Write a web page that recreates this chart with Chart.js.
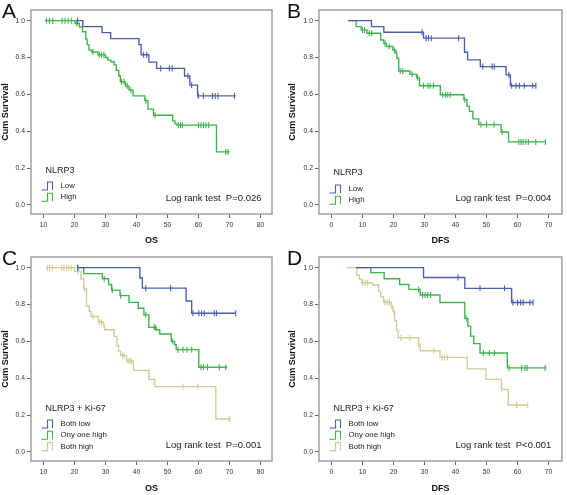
<!DOCTYPE html>
<html>
<head>
<meta charset="utf-8">
<script src="https://cdn.jsdelivr.net/npm/chart.js@4.4.1/dist/chart.umd.min.js"></script>
<style>
  body { margin: 0; background: #fff; }
  #wrap { position: relative; width: 567px; height: 495px; }
  canvas { position: absolute; }
</style>
</head>
<body>
<div id="wrap">
  <canvas id="cA" width="283" height="247" style="left:0;top:0"></canvas>
  <canvas id="cB" width="283" height="247" style="left:284px;top:0"></canvas>
  <canvas id="cC" width="283" height="248" style="left:0;top:247px"></canvas>
  <canvas id="cD" width="283" height="248" style="left:284px;top:247px"></canvas>
</div>
<script>
"use strict";

// tick labels
const yTicks = [0, 0.2, 0.4, 0.6, 0.8, 1.0];
const xTicksOS = [10, 20, 30, 40, 50, 60, 70, 80];
const xTicksDFS = [0, 10, 20, 30, 40, 50, 60, 70];

// A: OS by NLRP3
const aLowT = [20.5, 22.7, 28.9, 31.7, 40.8, 41.5, 44.0, 46.5, 55.5, 57.2, 59.7, 72];
const aLowS = [1, 0.968, 0.935, 0.903, 0.87, 0.815, 0.775, 0.741, 0.70, 0.65, 0.592, 0.592];
const aLowC = [21, 42.3, 43.3, 47.8, 50.6, 51.5, 56.6, 57.8, 59.9, 61.6, 64.5, 65.4, 66.3, 71.6];
const aHighT = [10.5, 20.2, 21.6, 22.6, 23.7, 24.1, 24.7, 25.6, 27.6, 30, 30.8, 31.7, 32.8, 33.5, 34.3, 34.8, 36.5, 37.6, 38.9, 42.7, 43.7, 45.5, 51.7, 52.4, 53, 65.8, 70];
const aHighS = [1, 0.985, 0.966, 0.94, 0.90, 0.87, 0.84, 0.83, 0.815, 0.80, 0.786, 0.777, 0.76, 0.73, 0.70, 0.668, 0.645, 0.623, 0.592, 0.566, 0.52, 0.487, 0.456, 0.44, 0.433, 0.288, 0.288];
const aHighC = [11, 12, 13, 16, 17, 18, 19, 20.8, 26, 28, 28.7, 29.5, 35.2, 36, 37, 38.2, 43, 46, 53.5, 54.2, 54.8, 60, 60.8, 61.6, 62.4, 63.3, 68.8, 69.5];

// B: DFS by NLRP3
const bLowT = [5.4, 12.9, 16.9, 29.7, 42.9, 43.9, 48, 56.3, 57.7, 66];
const bLowS = [1, 0.968, 0.937, 0.905, 0.829, 0.787, 0.751, 0.706, 0.647, 0.647];
const bLowC = [29.2, 30.5, 31.3, 32.2, 41, 48.8, 51.8, 52.5, 57.2, 58.1, 59.5, 60.6, 62.2, 64.9, 65.9];
const bHighT = [5.4, 8, 9.6, 11.5, 15.9, 16.9, 17.7, 19.8, 20.8, 21.1, 21.7, 25.3, 27.5, 28.4, 35.1, 42.7, 43.7, 44.5, 45.6, 47.5, 54.7, 57.1, 69];
const bHighS = [1, 0.968, 0.95, 0.932, 0.895, 0.877, 0.86, 0.84, 0.823, 0.796, 0.727, 0.709, 0.69, 0.647, 0.598, 0.571, 0.535, 0.508, 0.467, 0.436, 0.396, 0.342, 0.342];
const bHighC = [10, 10.7, 12.2, 13, 17.3, 18.6, 20.3, 22.2, 23, 26, 27.8, 29.7, 31.1, 31.8, 32.9, 35.9, 36.8, 37.5, 38.3, 43, 48.2, 50, 52.4, 55, 60.4, 61.1, 61.8, 62.7, 63.5, 65.9, 69];

// C: OS by NLRP3 + Ki-67
const cLowT = [20.9, 41.1, 41.9, 56, 57.8, 72];
const cLowS = [1, 0.944, 0.889, 0.819, 0.753, 0.753];
const cLowC = [21.1, 43, 51, 58.2, 60.1, 61, 61.9, 65.1, 65.8, 72];
const cOneT = [21, 23, 29, 31, 32, 34.7, 37.6, 40.6, 42.4, 44, 46.4, 47.5, 51.2, 52.3, 52.8, 60.1, 69.3];
const cOneS = [1, 0.968, 0.94, 0.909, 0.878, 0.848, 0.812, 0.78, 0.744, 0.676, 0.663, 0.64, 0.60, 0.582, 0.555, 0.46, 0.46];
const cOneC = [21, 29.6, 32.2, 34.9, 43, 45.7, 46.1, 51.7, 53.4, 55, 56.3, 57.8, 60.8, 61.6, 62.9, 66.7, 68.8];
const cBothT = [10.7, 20.1, 22.1, 23, 23.9, 24.8, 25.4, 27.8, 29.4, 29.7, 32.8, 33.7, 34.2, 34.9, 36.8, 39, 44, 45.9, 65.6, 70.4];
const cBothS = [1, 0.98, 0.94, 0.887, 0.792, 0.762, 0.735, 0.704, 0.686, 0.663, 0.627, 0.577, 0.547, 0.523, 0.493, 0.443, 0.394, 0.355, 0.179, 0.179];
const cBothC = [11.3, 12, 12.9, 15.9, 16.6, 17.5, 18.2, 19, 21.2, 23.3, 26, 28, 28.7, 35.5, 36, 37.3, 37.9, 38.4, 55, 59.8, 69.9];

// D: DFS by NLRP3 + Ki-67
const dLowT = [8, 29.7, 43, 58.1, 65];
const dLowS = [1, 0.947, 0.888, 0.811, 0.811];
const dLowC = [40.8, 47.9, 55.8, 58.5, 60, 61, 61.8, 64, 65];
const dOneT = [8.2, 12.7, 17, 22, 25, 28.6, 35, 43, 44, 44.9, 45.9, 47.9, 56.7, 69.3];
const dOneS = [1, 0.973, 0.94, 0.909, 0.882, 0.852, 0.811, 0.724, 0.683, 0.629, 0.588, 0.537, 0.456, 0.456];
const dOneC = [28.1, 29.4, 30.2, 31, 32, 43.5, 49, 50.9, 52.5, 57.3, 61.3, 62.4, 63.1, 68.9];
const dBothT = [4.8, 8.2, 9, 9.8, 13.3, 15.2, 15.9, 16.8, 19.3, 19.9, 20.4, 21, 21.5, 28.1, 28.6, 35, 43.8, 49.8, 54.8, 57, 63.3];
const dBothS = [1, 0.959, 0.938, 0.918, 0.906, 0.87, 0.843, 0.813, 0.79, 0.763, 0.713, 0.66, 0.62, 0.585, 0.549, 0.513, 0.451, 0.394, 0.34, 0.255, 0.255];
const dBothC = [10.1, 10.9, 11.7, 17.2, 18, 18.7, 19.5, 20.1, 22.4, 25.3, 28.1, 33, 35.7, 36.5, 37.4, 54.9, 59.7, 63.3];

const BLUE = "#4a5eb0";
const GREEN = "#3cb44a";
const BEIGE = "#d4ca94";
const FONT = "'Liberation Sans', Arial, sans-serif";

// survival value at a censor time (last step at or before it)
function survAt(T, S, t) {
    let v = S[0];
    for (let i = 0; i < T.length; i++) {
        if (T[i] <= t) v = S[i];
    }
    return v;
}

function curveSets(T, S, C, color) {
    return [
        {
            data: T.map((t, i) => ({x: t, y: S[i]})),
            stepped: true,
            borderColor: color,
            borderWidth: 1.35,
            pointRadius: 0,
            fill: false
        },
        {
            data: C.map(t => ({x: t, y: survAt(T, S, t)})),
            showLine: false,
            pointStyle: 'line',
            pointRotation: 90,
            pointRadius: 3,
            pointBorderWidth: 1.1,
            pointBorderColor: color,
            pointBackgroundColor: color
        }
    ];
}

// frame, panel letter, legend and p value text
const decoPlugin = {
    id: 'deco',
    afterDraw(chart, args, o) {
        const ctx = chart.ctx;
        const a = chart.chartArea;
        ctx.save();
        ctx.strokeStyle = "#a0a0a0";
        ctx.lineWidth = 1.5;
        ctx.strokeRect(a.left, a.top, a.right - a.left, a.bottom - a.top);

        ctx.fillStyle = "#111";
        ctx.font = "21px " + FONT;
        ctx.textBaseline = "alphabetic";
        ctx.textAlign = "left";
        ctx.fillText(o.letter, a.left - o.letterDx, a.top + 8);

        ctx.fillStyle = "#222";
        ctx.font = "9px " + FONT;
        ctx.textBaseline = "middle";
        ctx.fillText(o.legendTitle, a.left + 14.5, a.bottom - o.titleUp);

        ctx.font = "7.8px " + FONT;
        o.labels.forEach((lab, i) => {
            const cy = a.bottom - o.firstUp + i * 11.3;
            const x0 = a.left + 10.5;
            ctx.strokeStyle = o.colors[i];
            ctx.lineWidth = 1.1;
            ctx.beginPath();
            ctx.moveTo(x0, cy + 4);
            ctx.lineTo(x0 + 6, cy + 4);
            ctx.lineTo(x0 + 6, cy - 4);
            ctx.lineTo(x0 + 11, cy - 4);
            ctx.lineTo(x0 + 11, cy + 4);
            ctx.stroke();
            ctx.fillStyle = "#222";
            ctx.fillText(lab, a.left + 29.5, cy);
        });

        ctx.font = "9.5px " + FONT;
        ctx.textAlign = "right";
        ctx.fillText(o.pText, a.right - 10.5, a.bottom - 16);
        ctx.restore();
    }
};

function makePanel(id, cfg) {
    const ctx = document.getElementById(id).getContext("2d");
    let datasets = [];
    cfg.curves.forEach(c => { datasets = datasets.concat(curveSets(c[0], c[1], c[2], c[3])); });
    return new Chart(ctx, {
        type: 'line',
        data: {datasets: datasets},
        plugins: [decoPlugin],
        options: {
            responsive: false,
            animation: false,
            devicePixelRatio: 1,
            layout: {padding: {top: 10, right: cfg.padRight, left: 0, bottom: 0}},
            plugins: {
                legend: {display: false},
                tooltip: {enabled: false},
                deco: {
                    letter: cfg.letter,
                    letterDx: cfg.letterDx,
                    legendTitle: cfg.legendTitle,
                    labels: cfg.labels,
                    colors: cfg.curves.map(c => c[3]),
                    titleUp: cfg.titleUp,
                    firstUp: cfg.firstUp,
                    pText: cfg.pText
                }
            },
            scales: {
                x: {
                    type: 'linear',
                    min: cfg.xMin,
                    max: cfg.xMax,
                    afterFit: s => { s.height = cfg.xHeight; },
                    afterBuildTicks: s => { s.ticks = cfg.xTicks.map(v => ({value: v})); },
                    grid: {drawOnChartArea: false, drawTicks: true, tickLength: 4, color: "#666"},
                    border: {display: false},
                    ticks: {color: "#333", font: {family: FONT, size: 6.8}, padding: 3, maxRotation: 0},
                    title: {display: true, text: cfg.xTitle, color: "#111",
                            font: {family: FONT, size: 9, weight: 'bold'}, padding: {top: 0, bottom: 1.5}}
                },
                y: {
                    type: 'linear',
                    min: -0.049,
                    max: 1.058,
                    afterFit: s => { s.width = cfg.yWidth; },
                    afterBuildTicks: s => { s.ticks = yTicks.map(v => ({value: v})); },
                    grid: {drawOnChartArea: false, drawTicks: true, tickLength: 4, color: "#666"},
                    border: {display: false},
                    ticks: {color: "#333", font: {family: FONT, size: 6.8}, padding: 2,
                            callback: v => v.toFixed(1)},
                    title: {display: true, text: "Cum Survival", color: "#111",
                            font: {family: FONT, size: 9, weight: 'bold'}, padding: {top: cfg.yTitlePad, bottom: 0}}
                }
            }
        }
    });
}

makePanel("cA", {
    letter: "A", letterDx: 29, xTitle: "OS", xMin: 6, xMax: 83.7, xTicks: xTicksOS,
    yWidth: 31, padRight: 11, xHeight: 33, yTitlePad: 0.6,
    legendTitle: "NLRP3", labels: ["Low", "High"], titleUp: 43, firstUp: 28,
    pText: "Log rank test  P=0.026",
    curves: [[aLowT, aLowS, aLowC, BLUE], [aHighT, aHighS, aHighC, GREEN]]
});
makePanel("cB", {
    letter: "B", letterDx: 32, xTitle: "DFS", xMin: -4, xMax: 74.3, xTicks: xTicksDFS,
    yWidth: 35, padRight: 4, xHeight: 33, yTitlePad: 3.6,
    legendTitle: "NLRP3", labels: ["Low", "High"], titleUp: 41, firstUp: 25,
    pText: "Log rank test  P=0.004",
    curves: [[bLowT, bLowS, bLowC, BLUE], [bHighT, bHighS, bHighC, GREEN]]
});
makePanel("cC", {
    letter: "C", letterDx: 29, xTitle: "OS", xMin: 6, xMax: 83.7, xTicks: xTicksOS,
    yWidth: 31, padRight: 11, xHeight: 34, yTitlePad: 0.6,
    legendTitle: "NLRP3 + Ki-67", labels: ["Both low", "Ony one high", "Both high"], titleUp: 52, firstUp: 37,
    pText: "Log rank test  P=0.001",
    curves: [[cLowT, cLowS, cLowC, BLUE], [cOneT, cOneS, cOneC, GREEN], [cBothT, cBothS, cBothC, BEIGE]]
});
makePanel("cD", {
    letter: "D", letterDx: 32, xTitle: "DFS", xMin: -4, xMax: 74.3, xTicks: xTicksDFS,
    yWidth: 35, padRight: 4, xHeight: 34, yTitlePad: 3.6,
    legendTitle: "NLRP3 + Ki-67", labels: ["Both low", "Ony one high", "Both high"], titleUp: 52, firstUp: 37,
    pText: "Log rank test  P<0.001",
    curves: [[dLowT, dLowS, dLowC, BLUE], [dOneT, dOneS, dOneC, GREEN], [dBothT, dBothS, dBothC, BEIGE]]
});
</script>
</body>
</html>
